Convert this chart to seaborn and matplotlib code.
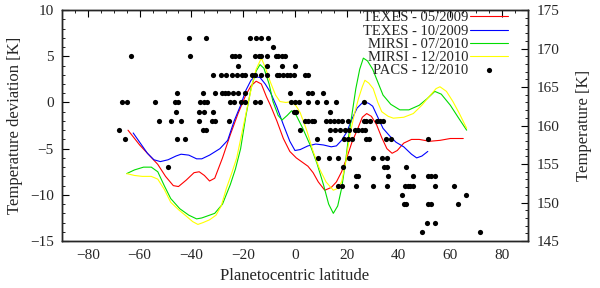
import numpy as np
import pandas as pd
import seaborn as sns
import matplotlib.pyplot as plt
from matplotlib.ticker import MultipleLocator

# TEXES - 05/2009
texes05_lat = [-64.5, -60, -56, -53, -50, -47, -45, -42, -39, -37, -35, -33, -31, -28, -25, -22,
               -19, -17, -15, -13, -11, -9.5, -7, -4.5, -2, 0.5, 3, 5, 7, 9, 11.5, 14, 16, 18,
               20, 22, 24, 26, 27.7, 29.5, 31.5, 33.5, 35.5, 37.5, 39.5, 42, 45, 48, 52, 56, 60, 65]
texes05_dev = [-3.0, -4.6, -5.8, -6.7, -8.0, -9.0, -9.1, -8.4, -7.6, -7.5, -7.9, -8.5, -8.2, -6.0,
               -3.5, -1.2, 0.8, 1.8, 2.3, 2.0, 0.6, -0.3, -2.0, -3.9, -5.3, -6.0, -6.5, -6.9, -7.6,
               -8.6, -9.5, -9.2, -8.6, -7.5, -6.0, -4.3, -3.0, -1.6, -1.2, -1.5, -2.4, -3.8, -5.0,
               -5.5, -5.2, -4.4, -4.0, -4.0, -4.2, -4.1, -3.9, -3.9]

# TEXES - 10/2009
texes10_lat = [-62.5, -60, -57, -54.5, -52, -49, -46, -44, -41, -38, -36, -33, -29, -26, -23.5,
               -21, -19, -17, -15.5, -13.5, -11.5, -9.5, -7, -4.5, -2, 0, 2, 5, 8, 11, 14, 16, 18,
               20, 22, 24, 26.5, 28.5, 30, 32, 34, 36.5, 39, 42, 45, 47, 49, 51.3]
texes10_dev = [-3.3, -4.3, -5.5, -6.2, -6.4, -6.2, -5.8, -5.6, -5.7, -6.1, -6.1, -5.7, -5.0, -4.1,
               -2.0, -0.3, 1.3, 2.4, 2.8, 2.7, 2.0, 1.1, -0.5, -2.4, -4.2, -5.2, -5.1, -4.7, -4.5,
               -4.6, -4.8, -4.7, -4.1, -3.2, -1.8, -0.6, 0.1, -0.1, -0.4, -1.6, -2.8, -3.6, -4.3,
               -4.8, -5.6, -6.0, -5.8, -5.3]

# MIRSI - 07/2010
mirsi07_lat = [-65, -62, -58.5, -55.5, -53, -50.5, -48, -44.5, -41, -38, -36, -34, -31, -28, -25,
               -23, -21, -19, -17, -15, -13.5, -12, -10, -8.5, -6.5, -5, -3, -1.3, 0.5, 3, 6, 8.5,
               11, 13, 14.8, 16.5, 18, 19.5, 20.6, 22, 23.5, 25, 26.4, 28, 30, 32, 34, 37, 40.5,
               44, 48, 51, 54, 56.5, 60, 63, 66.3]
mirsi07_dev = [-7.7, -7.3, -7.0, -7.0, -7.5, -9.0, -10.4, -11.5, -12.2, -12.6, -12.5, -12.3, -12.0,
               -11.0, -8.9, -7.2, -5.0, -1.5, 1.5, 3.4, 4.1, 3.7, 2.0, 0.1, -1.4, -1.9, -1.4, -0.9,
               -1.4, -2.8, -4.7, -6.6, -8.9, -11.0, -12.0, -11.2, -9.3, -6.5, -3.9, -1.3, 1.5, 3.6,
               4.8, 4.5, 3.6, 2.2, 0.8, -0.2, -0.8, -0.8, -0.3, 0.4, 1.2, 0.9, -0.3, -1.6, -3.0]

# MIRSI - 12/2010
mirsi12_lat = [-65, -62, -59, -55.5, -53, -50.5, -48, -45, -42, -39.5, -37.5, -35.5, -33, -30.5,
               -28.5, -26.5, -24.5, -22.5, -20.5, -18.5, -16.5, -15, -13, -11.5, -9.5, -7.5, -5.8,
               -3.5, -1.3, 0.5, 2, 4.5, 7, 9.5, 12, 14.8, 16.5, 18, 19.5, 21.2, 23, 24.5, 26, 27,
               28.5, 30.2, 32, 33.5, 36, 38, 42, 45.7, 49, 52, 54.5, 56, 58.5, 61, 63.5, 66.3]
mirsi12_dev = [-7.7, -7.9, -8.0, -8.0, -8.3, -9.4, -10.8, -11.6, -12.3, -12.9, -13.2, -13.0, -12.7,
               -12.2, -11.2, -9.3, -7.7, -6.0, -3.3, -0.6, 2.0, 3.6, 4.8, 3.8, 2.2, 0.8, 0.1, 0.0,
               0.1, -0.4, -1.1, -3.0, -5.3, -7.2, -8.6, -9.5, -9.3, -8.6, -6.6, -3.5, -1.2, 0.4,
               1.7, 2.4, 2.1, 1.5, 0.0, -1.0, -1.5, -1.7, -1.6, -1.2, -0.3, 0.7, 1.5, 1.7, 1.2,
               0.1, -1.2, -2.8]

# PACS - 12/2010 (listed row by row)
pacs_lat = [-41, -34.5, -17.5, -15, -13, -10.5,
            -8.5,
            -63.5, -40.5, -24.5, -23, -21.5, -15.5, -14, -13, -11, -7.5, -6.5, -5, -4,
            -22, -11, -5, 0,
            -31.5, -28.5, -26.5, -24.5, -22.5, -20.5, -19.5, -16.5, -15.5, -13, -11, -7, -6,
            -4.5, -3, -2, -0.5, 4, 5,
            -45.5, -35.5, -31, -28, -27, -26, -24, -22, -19.5, -2, 5, 6.5, 11,
            -67, -65, -54, -46.5, -45, -36.5, -35, -34, -25, -23.5, -21, -19.5, -15.5, -13.5,
            -1.5, 0, 1.5, 5, 8.5, 12, 16, 26.5,
            -46, -37, -35, -31.5, -0.5, 0.5, 13.5,
            -52.5, -48, -44, -37, -32, -31, -25.5, 4, 5, 6.5, 7.5, 12, 13.5, 15, 16.5, 18, 20.5,
            26.5, 27.5, 29, 31.5, 33, 34,
            -68, -35.5, -34.5, 2, 13.5, 15.5, 17.5, 19.5, 21, 23, 24.5, 26, 27,
            -65.5, -45.5, -42.5, 8.5, 13.5, 19, 20.5, 22, 27.5, 28.5, 35, 37, 51.5,
            9, 13, 16.5, 21, 30, 33.5, 35.5,
            -49, 18.5, 34.5, 35.5, 43,
            23.5, 24.5, 36, 45.5, 51.5, 52.5, 54,
            16.5, 18, 23.5, 30, 35.5, 42.5, 43.5, 44.5, 45.5, 54, 61.5,
            41.5, 66,
            42, 43, 51.5, 52.5, 63,
            51, 54,
            49, 71.5]
pacs_dev = ([7] * 6 + [6] * 1 + [5] * 13 + [4] * 4 + [3] * 19 + [1] * 13 + [0] * 22 + [-1] * 7
            + [-2] * 23 + [-3] * 13 + [-4] * 13 + [-6] * 7 + [-7] * 5 + [-8] * 7 + [-9] * 11
            + [-10] * 2 + [-11] * 5 + [-13] * 2 + [-14] * 2)

curves = [
    ('TEXES - 05/2009', texes05_lat, texes05_dev, '#ff0000'),
    ('TEXES - 10/2009', texes10_lat, texes10_dev, '#0000ff'),
    ('MIRSI - 07/2010', mirsi07_lat, mirsi07_dev, '#00dd00'),
    ('MIRSI - 12/2010', mirsi12_lat, mirsi12_dev, '#ffff00'),
]

sns.set_style('white')
plt.rcParams['font.family'] = ['Liberation Serif', 'DejaVu Serif']
plt.rcParams['axes.linewidth'] = 1.0

fig = plt.figure(figsize=(6, 2.88), dpi=100)
ax = fig.add_axes([0.1033, 0.163, 0.7767, 0.802])

for label, lat, dev, color in curves:
    df = pd.DataFrame({'lat': lat, 'dev': dev})
    sns.lineplot(data=df, x='lat', y='dev', sort=False, estimator=None, color=color,
                 lw=0.8, label=label, ax=ax)

pacs = pd.DataFrame({'lat': pacs_lat, 'dev': pacs_dev})
sns.scatterplot(data=pacs, x='lat', y='dev', color='black', s=14, linewidth=0,
                label='PACS - 12/2010', ax=ax, zorder=5)

ax.set_xlim(-90, 90)
ax.set_ylim(-15, 10)
ax.xaxis.set_major_locator(MultipleLocator(20))
ax.xaxis.set_minor_locator(MultipleLocator(5))
ax.yaxis.set_major_locator(MultipleLocator(5))
ax.yaxis.set_minor_locator(MultipleLocator(1))
ax.tick_params(axis='both', which='both', direction='in', labelsize=11, top=True, right=False,
               color='black')
ax.tick_params(which='major', length=5, width=0.8, pad=6)
ax.tick_params(which='minor', length=2.5, width=0.6)
ax.set_xlabel('Planetocentric latitude', fontsize=12, labelpad=4)
ax.set_ylabel('Temperature deviation [K]', fontsize=12, labelpad=5)
for s in ax.spines.values():
    s.set_color('black')

leg = ax.legend(loc='upper right', bbox_to_anchor=(0.957, 0.995), frameon=False,
                markerfirst=False, fontsize=10.5, labelspacing=0.0, handlelength=2.6,
                handletextpad=0.1, borderaxespad=0, borderpad=0)

ax2 = ax.twinx()
ax2.set_ylim(145, 175)
ax2.yaxis.set_major_locator(MultipleLocator(5))
ax2.yaxis.set_minor_locator(MultipleLocator(1))
ax2.tick_params(axis='y', which='both', direction='in', labelsize=11, color='black')
ax2.tick_params(which='major', length=5, width=0.8, pad=6)
ax2.tick_params(which='minor', length=2.5, width=0.6)
ax2.set_ylabel('Temperature [K]', fontsize=12, labelpad=12)

fig.savefig('out.png', dpi=100)
